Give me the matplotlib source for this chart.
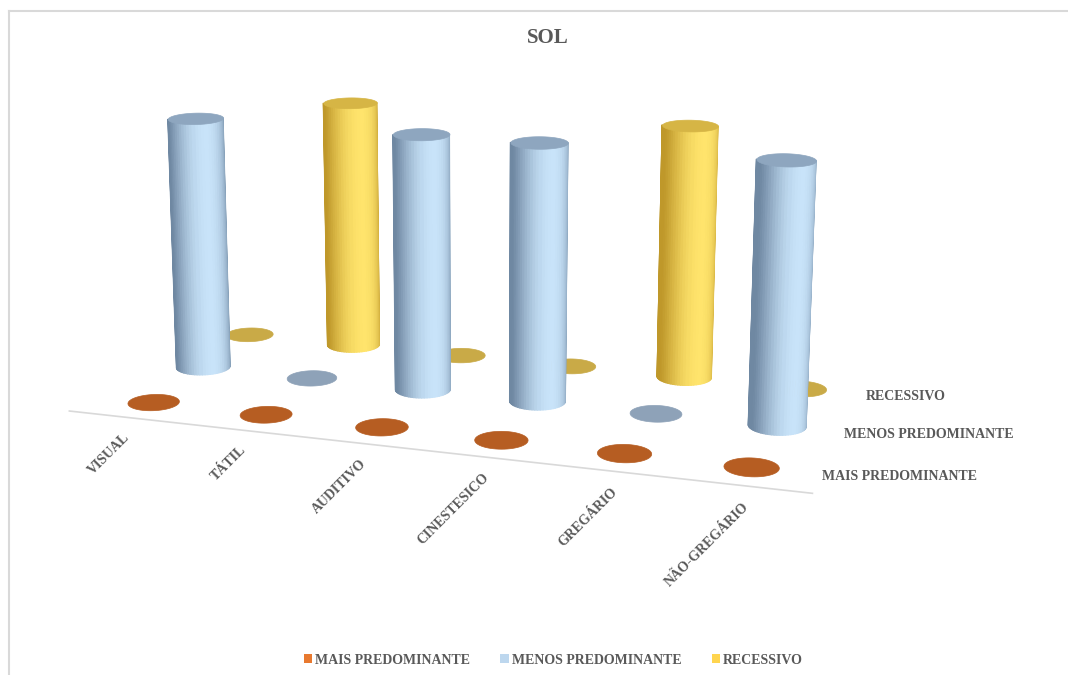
import numpy as np
import matplotlib
matplotlib.use("Agg")
import matplotlib.pyplot as plt
from matplotlib.colors import to_rgb
from matplotlib.lines import Line2D
from matplotlib.patches import Patch
from mpl_toolkits.mplot3d import proj3d
from mpl_toolkits.mplot3d.art3d import Poly3DCollection

plt.rcParams["font.family"] = ["Liberation Serif", "DejaVu Serif"]

categories = ["VISUAL", "TÁTIL", "AUDITIVO", "CINESTESICO", "GREGÁRIO", "NÃO-GREGÁRIO"]
series_names = ["MAIS PREDOMINANTE", "MENOS PREDOMINANTE", "RECESSIVO"]
mais_predominante = [0, 0, 0, 0, 0, 0]
menos_predominante = [1, 0, 1, 1, 0, 1]
recessivo = [0, 1, 0, 0, 1, 0]
series_values = [mais_predominante, menos_predominante, recessivo]

# legend swatch, lit side, shadow side, top cap, flat (zero) disc
styles = [
    dict(legend="#e8792f", light="#d9783a", dark="#a9531d", cap="#c06428", disc="#b65d22"),
    dict(legend="#bdd7ee", light="#c8e3f9", dark="#6f88a2", cap="#8ea6bf", disc="#8ea2b8"),
    dict(legend="#ffd54f", light="#ffe46c", dark="#bf982a", cap="#d6b545", disc="#c9aa47"),
]

ELEV, AZIM = 15.5, -72
TEXT = "#595959"
R_BAR = 0.23
R_DISC = 0.21

fig = plt.figure(figsize=(10.68, 6.75), dpi=100)
ax = fig.add_axes([0.1575, 0.14, 0.568, 0.9], projection="3d", computed_zorder=False)
ax.set_proj_type("persp", focal_length=0.75)
ax.view_init(elev=ELEV, azim=AZIM)

n_cat = len(categories)
ax.set_xlim(-0.5, n_cat - 0.5)
ax.set_ylim(-0.5, len(series_names) - 0.5)
ax.set_zlim(0, 1)
ax.set_box_aspect((6, 3, 2.18), zoom=1.38)
ax.set_axis_off()

# fix the projection before building geometry, so hidden faces can be culled
fig.canvas.draw()
M = ax.get_proj()


def to2d(x, y, z):
    px, py, _ = proj3d.proj_transform(np.asarray(x, float), np.asarray(y, float),
                                      np.asarray(z, float), M)
    return px, py


def circle(x, y, z, r, n=60):
    t = np.linspace(0, 2 * np.pi, n, endpoint=False)
    return np.column_stack([x + r * np.cos(t), y + r * np.sin(t), np.full(n, z)])


def shaded(st, k):
    lo, hi = np.array(to_rgb(st["dark"])), np.array(to_rgb(st["light"]))
    t = np.clip(k, 0, 1) ** 1.5
    return lo + (hi - lo) * t[:, None]


def add_poly(ax, verts, fc, zo, lw=0.5):
    poly = Poly3DCollection(verts, facecolors=fc, edgecolors=fc, linewidths=lw)
    poly.set_zorder(zo)
    poly.set_clip_on(False)
    ax.add_collection3d(poly)


def draw_cylinder(ax, x, y, h, st, zo):
    n = 64
    t = np.linspace(0, 2 * np.pi, n + 1)
    a0, a1 = t[:-1], t[1:]
    bx0, by0 = x + R_BAR * np.cos(a0), y + R_BAR * np.sin(a0)
    bx1, by1 = x + R_BAR * np.cos(a1), y + R_BAR * np.sin(a1)
    # screen orientation of each side face tells whether it faces the camera
    sx0, sy0 = to2d(bx0, by0, np.zeros(n))
    sx1, sy1 = to2d(bx1, by1, np.zeros(n))
    tx0, ty0 = to2d(bx0, by0, np.full(n, h))
    cross = (sx1 - sx0) * (ty0 - sy0) - (sy1 - sy0) * (tx0 - sx0)
    ref = cross[np.argmax(np.cos(0.5 * (a0 + a1) - np.radians(AZIM)))]
    front = np.sign(cross) == np.sign(ref)
    quads = [[(bx0[m], by0[m], 0), (bx1[m], by1[m], 0), (bx1[m], by1[m], h), (bx0[m], by0[m], h)]
             for m in np.flatnonzero(front)]
    # light comes from slightly right of the viewer
    k = np.cos(0.5 * (a0 + a1)[front] - np.radians(AZIM + 25))
    add_poly(ax, quads, shaded(st, k), zo, lw=0.8)
    add_poly(ax, [circle(x, y, h, R_BAR)], st["cap"], zo + 0.01)


def draw_disc(ax, x, y, st, zo):
    add_poly(ax, [circle(x, y, 0, R_DISC)], st["disc"], zo)


ca, sa = np.cos(np.radians(AZIM)), np.sin(np.radians(AZIM))
for j, (vals, st) in enumerate(zip(series_values, styles)):
    for i, v in enumerate(vals):
        depth = i * ca + j * sa
        zo = 10 + depth
        if v > 0:
            draw_cylinder(ax, i, j, v, st, zo)
        else:
            draw_disc(ax, i, j, st, zo)

# floor edge in front of the first row
floor, = ax.plot([-0.55, n_cat - 0.45], [-0.42, -0.42], [0, 0], color="#d9d9d9", lw=1.2, zorder=1)
floor.set_clip_on(False)

# axis labels placed in 2D at projected floor positions
for i, cat in enumerate(categories):
    px, py = to2d(i + 0.15, -0.7, 0)
    ax.text2D(px, py, cat, transform=ax.transData, rotation=45, ha="right", va="top",
              fontsize=10, fontweight="bold", color=TEXT, clip_on=False)

for j, name in enumerate(series_names):
    px, py = to2d(n_cat - 0.45, j - 0.05, 0)
    ax.text2D(px, py, name, transform=ax.transData, ha="left", va="center",
              fontsize=10, fontweight="bold", color=TEXT, clip_on=False)

fig.text(0.513, 0.944, "SOL", ha="center", va="center", fontsize=15,
         fontweight="bold", color=TEXT)

handles = [Patch(facecolor=st["legend"], edgecolor="none") for st in styles]
fig.legend(handles, series_names, loc="center", bbox_to_anchor=(0.518, 0.022), ncol=3,
           frameon=False, handlelength=0.6, handleheight=0.6, handletextpad=0.2,
           columnspacing=2.2, prop=dict(size=10, weight="bold"), labelcolor=TEXT)

# chart frame
fig.add_artist(Line2D([9 / 1068, 1], [1 - 11 / 675] * 2, color="#d9d9d9", lw=1.5,
                      transform=fig.transFigure))
fig.add_artist(Line2D([9 / 1068] * 2, [0, 1 - 11 / 675], color="#d9d9d9", lw=1.5,
                      transform=fig.transFigure))

fig.savefig("out.png", dpi=100)
